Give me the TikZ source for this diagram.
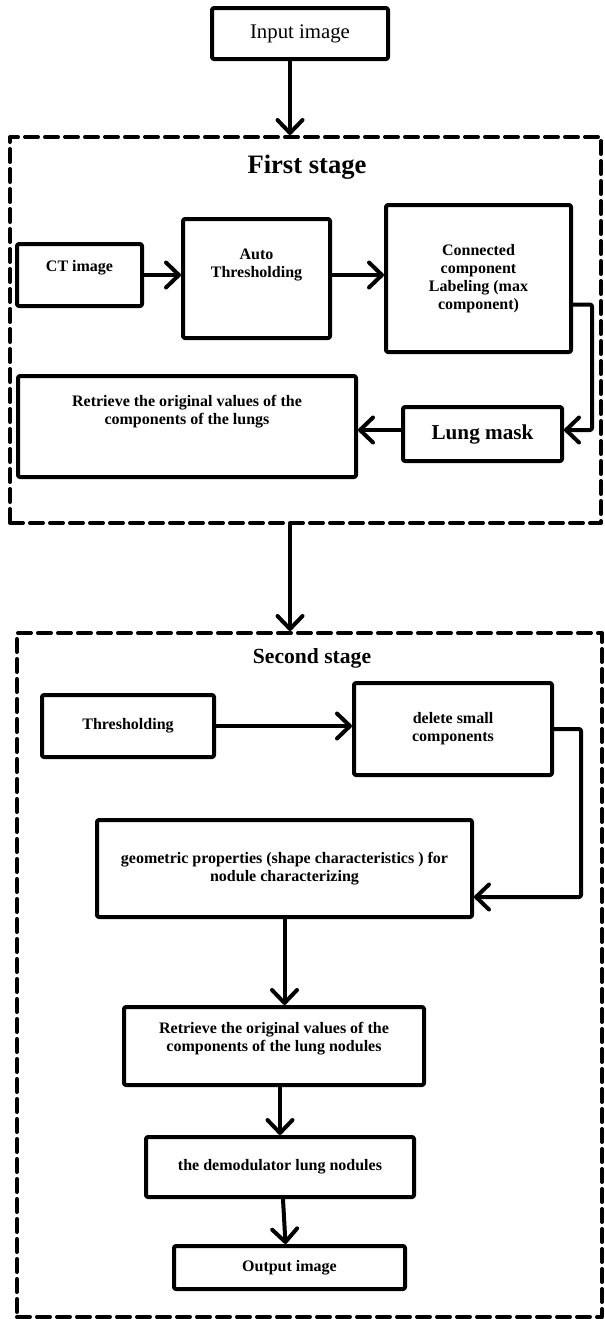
\documentclass[tikz,border=0pt]{standalone}
\usepackage{fontspec}
\setmainfont{Liberation Serif}
\usetikzlibrary{arrows.meta}

\begin{document}
\begin{tikzpicture}[x=0.5pt, y=-0.5pt, line cap=round, line join=round]

%-----------------------
% 参数与样式：1 个单位 = 1 像素
%-----------------------
\def\u{0.5pt}
\tikzset{
  proc/.style={draw, line width=2pt, rounded corners=1pt, align=center,
               font=\bfseries\fontsize{8}{9}\selectfont, inner sep=1pt},
  txt/.style={align=center, font=\bfseries\fontsize{8}{9}\selectfont, inner sep=0pt},
  frame/.style={draw, line width=2pt, dash pattern=on 6.5pt off 3.5pt},
  arr/.style={line width=2pt, -{Straight Barb[length=6.5pt,width=12.5pt,round]}},
  title/.style={font=\bfseries\fontsize{#1}{#1}\selectfont, inner sep=0pt}
}
\useasboundingbox (0,0) rectangle (605,1319);

%-----------------------
% 两个虚线框（阶段）
%-----------------------
\node[frame, minimum width=591*\u, minimum height=386*\u] (stageA) at (305.5,330) {};
\node[frame, minimum width=585*\u, minimum height=684*\u] (stageB) at (309.5,975) {};

\node[proc, font=\fontsize{10.4}{12}\selectfont,
      minimum width=176*\u, minimum height=51*\u] (input) at (300,33.5) {Input image};

\node[title=13.3] (titleA) at (307,167) {First stage};
\node[title=10.8] (titleB) at (312,658) {Second stage};

%-----------------------
% 第一阶段
%-----------------------
\node[proc, minimum width=125*\u, minimum height=62*\u,
      label={[txt,yshift=3.5pt]center:CT image}] (ct) at (79.5,275) {};
\node[proc, minimum width=147*\u, minimum height=119*\u,
      label={[txt,yshift=7pt]center:Auto\\Thresholding}] (auto) at (256.5,278.5) {};
\node[proc, minimum width=185*\u, minimum height=147*\u] (conn) at (478.5,278.5)
  {Connected\\component\\Labeling (max\\component)};
\node[proc, font=\bfseries\fontsize{10.6}{12}\selectfont,
      minimum width=159*\u, minimum height=54*\u] (lung) at (482.5,434) {Lung mask};
\node[proc, minimum width=338*\u, minimum height=101*\u,
      label={[txt,yshift=7.5pt]center:Retrieve the original values of the\\components of the lungs}]
  (ret1) at (187,426.5) {};

\draw[arr] ([xshift=-5pt]input.south) -- ([xshift=-5pt]input.south |- stageA.north);
\draw[arr] (ct.east) -- (ct.east -| auto.west);
\draw[arr] (ct.east -| auto.east) -- (ct.east -| conn.west);
\draw[arr, rounded corners=1pt] ([yshift=-13pt]conn.east) -- ++(9.5pt,0) |- ([yshift=2pt]lung.east);
\draw[arr] ([yshift=2pt]lung.west) -- ([yshift=2pt]lung.west -| ret1.east);

\draw[arr] ([xshift=-7.75pt]stageA.south) -- ([xshift=-7.75pt]stageA.south |- stageB.north);

%-----------------------
% 第二阶段
%-----------------------
\node[proc, minimum width=172*\u, minimum height=62*\u] (thr) at (128,726) {Thresholding};
\node[proc, minimum width=198*\u, minimum height=92*\u] (del) at (453,729) {delete small\\components};
\node[proc, minimum width=375*\u, minimum height=97*\u] (geo) at (284.5,868.5)
  {geometric properties (shape characteristics ) for\\nodule characterizing};
\node[proc, minimum width=300*\u, minimum height=78*\u,
      label={[txt,yshift=3.5pt]center:Retrieve the original values of the\\components of the lung nodules}]
  (ret2) at (274,1046) {};
\node[proc, minimum width=268*\u, minimum height=60*\u] (dem) at (280,1167) {the demodulator lung nodules};
\node[proc, minimum width=231*\u, minimum height=43*\u] (out) at (289.5,1267.5) {Output image};

\draw[arr] (thr.east) -- (thr.east -| del.west);
\draw[arr, rounded corners=1pt] (del.east) -- ++(13.5pt,0) |- ([yshift=-14.25pt]geo.east);
\draw[arr] (geo.south) -- (geo.south |- ret2.north);
\draw[arr] (dem.north |- ret2.south) -- (dem.north);
\draw[arr] ([xshift=1.5pt]dem.south) -- ([xshift=-2pt]out.north);

\end{tikzpicture}
\end{document}
